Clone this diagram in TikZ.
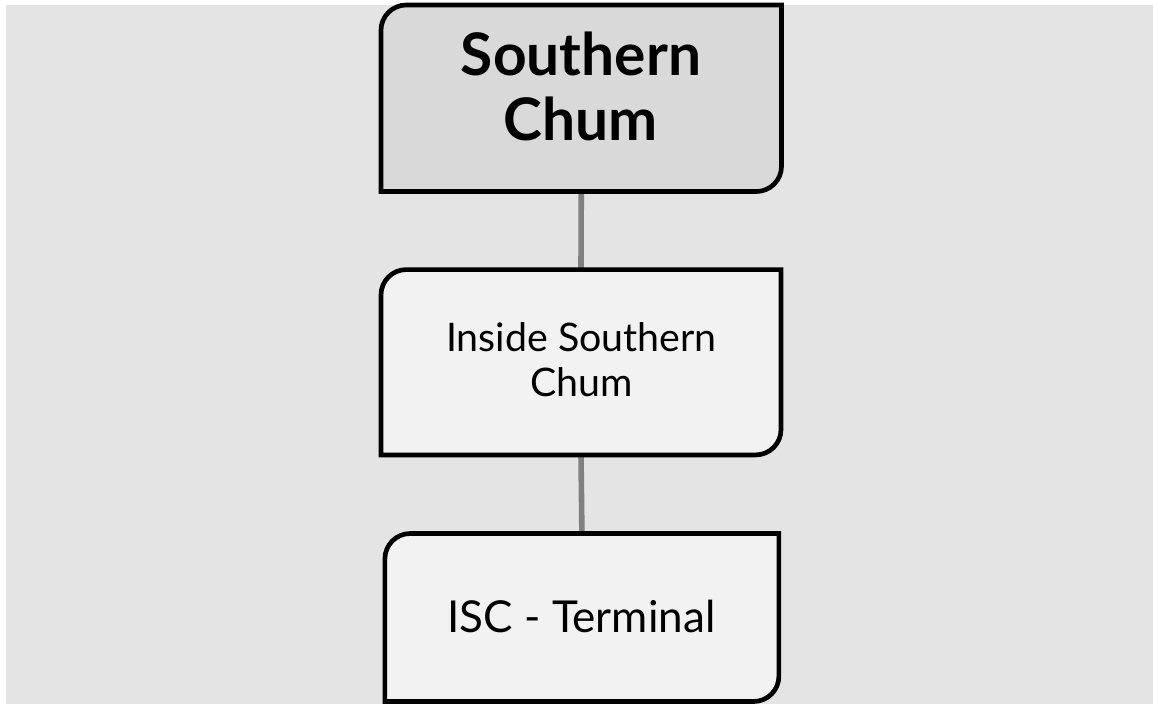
\documentclass[tikz,border=0pt]{standalone}
\usepackage{fontspec}
\setmainfont{Lato}
\definecolor{pagegray}{HTML}{E4E4E4}
\definecolor{headfill}{HTML}{D9D9D9}
\definecolor{cardfill}{HTML}{F2F2F2}
\definecolor{linkgray}{HTML}{808080}
% frame with rounded top left and bottom right corners
\newcommand{\drawcard}[2]{%
  \filldraw[fill=#2, draw=black, line width=3.5pt]
    (#1.south west) -- ([yshift=-19pt]#1.north west)
    arc[start angle=180, end angle=90, radius=19pt] -- (#1.north east)
    -- ([yshift=19pt]#1.south east)
    arc[start angle=0, end angle=-90, radius=19pt] -- cycle;}
\begin{document}
\begin{tikzpicture}[x=0.75pt, y=-0.75pt,
    card/.style={inner sep=0pt, outer sep=0pt},
    headtext/.style={inner sep=0pt, align=center, font=\fontsize{44}{48.75}\selectfont\bfseries},
    cardtext/.style={inner sep=0pt, align=center, font=\fontsize{29.5}{33.75}\selectfont},
    link/.style={draw=linkgray, line width=4.2pt}]
    \useasboundingbox (0,0) rectangle (1153,704);
    \fill[white] (0,0) rectangle (1153,704);
    \fill[pagegray] (6,5) rectangle (1153,704);

    % the three boxes
    \node[card, minimum width=300.4pt, minimum height=139.9pt] (chum) at (581.25,98.25) {};
    \node[card, minimum width=300pt, minimum height=139pt] (inside) at (581,362.25) {};
    \node[card, minimum width=295.5pt, minimum height=126pt] (terminal) at (581.9,617.5) {};

    \draw[link] (chum.south) -- (inside.north);
    \draw[link] (inside.south) -- (terminal.north);

    \drawcard{chum}{headfill}
    \drawcard{inside}{cardfill}
    \drawcard{terminal}{cardfill}

    \node[headtext] (chumtext) at (581,86) {Southern\\Chum};
    \node[cardtext] (insidetext) at (581.5,359.5) {Inside Southern\\Chum};
    \node[cardtext, font=\fontsize{33}{36}\selectfont] (terminaltext) at (581.5,616) {ISC - Terminal};
\end{tikzpicture}
\end{document}
